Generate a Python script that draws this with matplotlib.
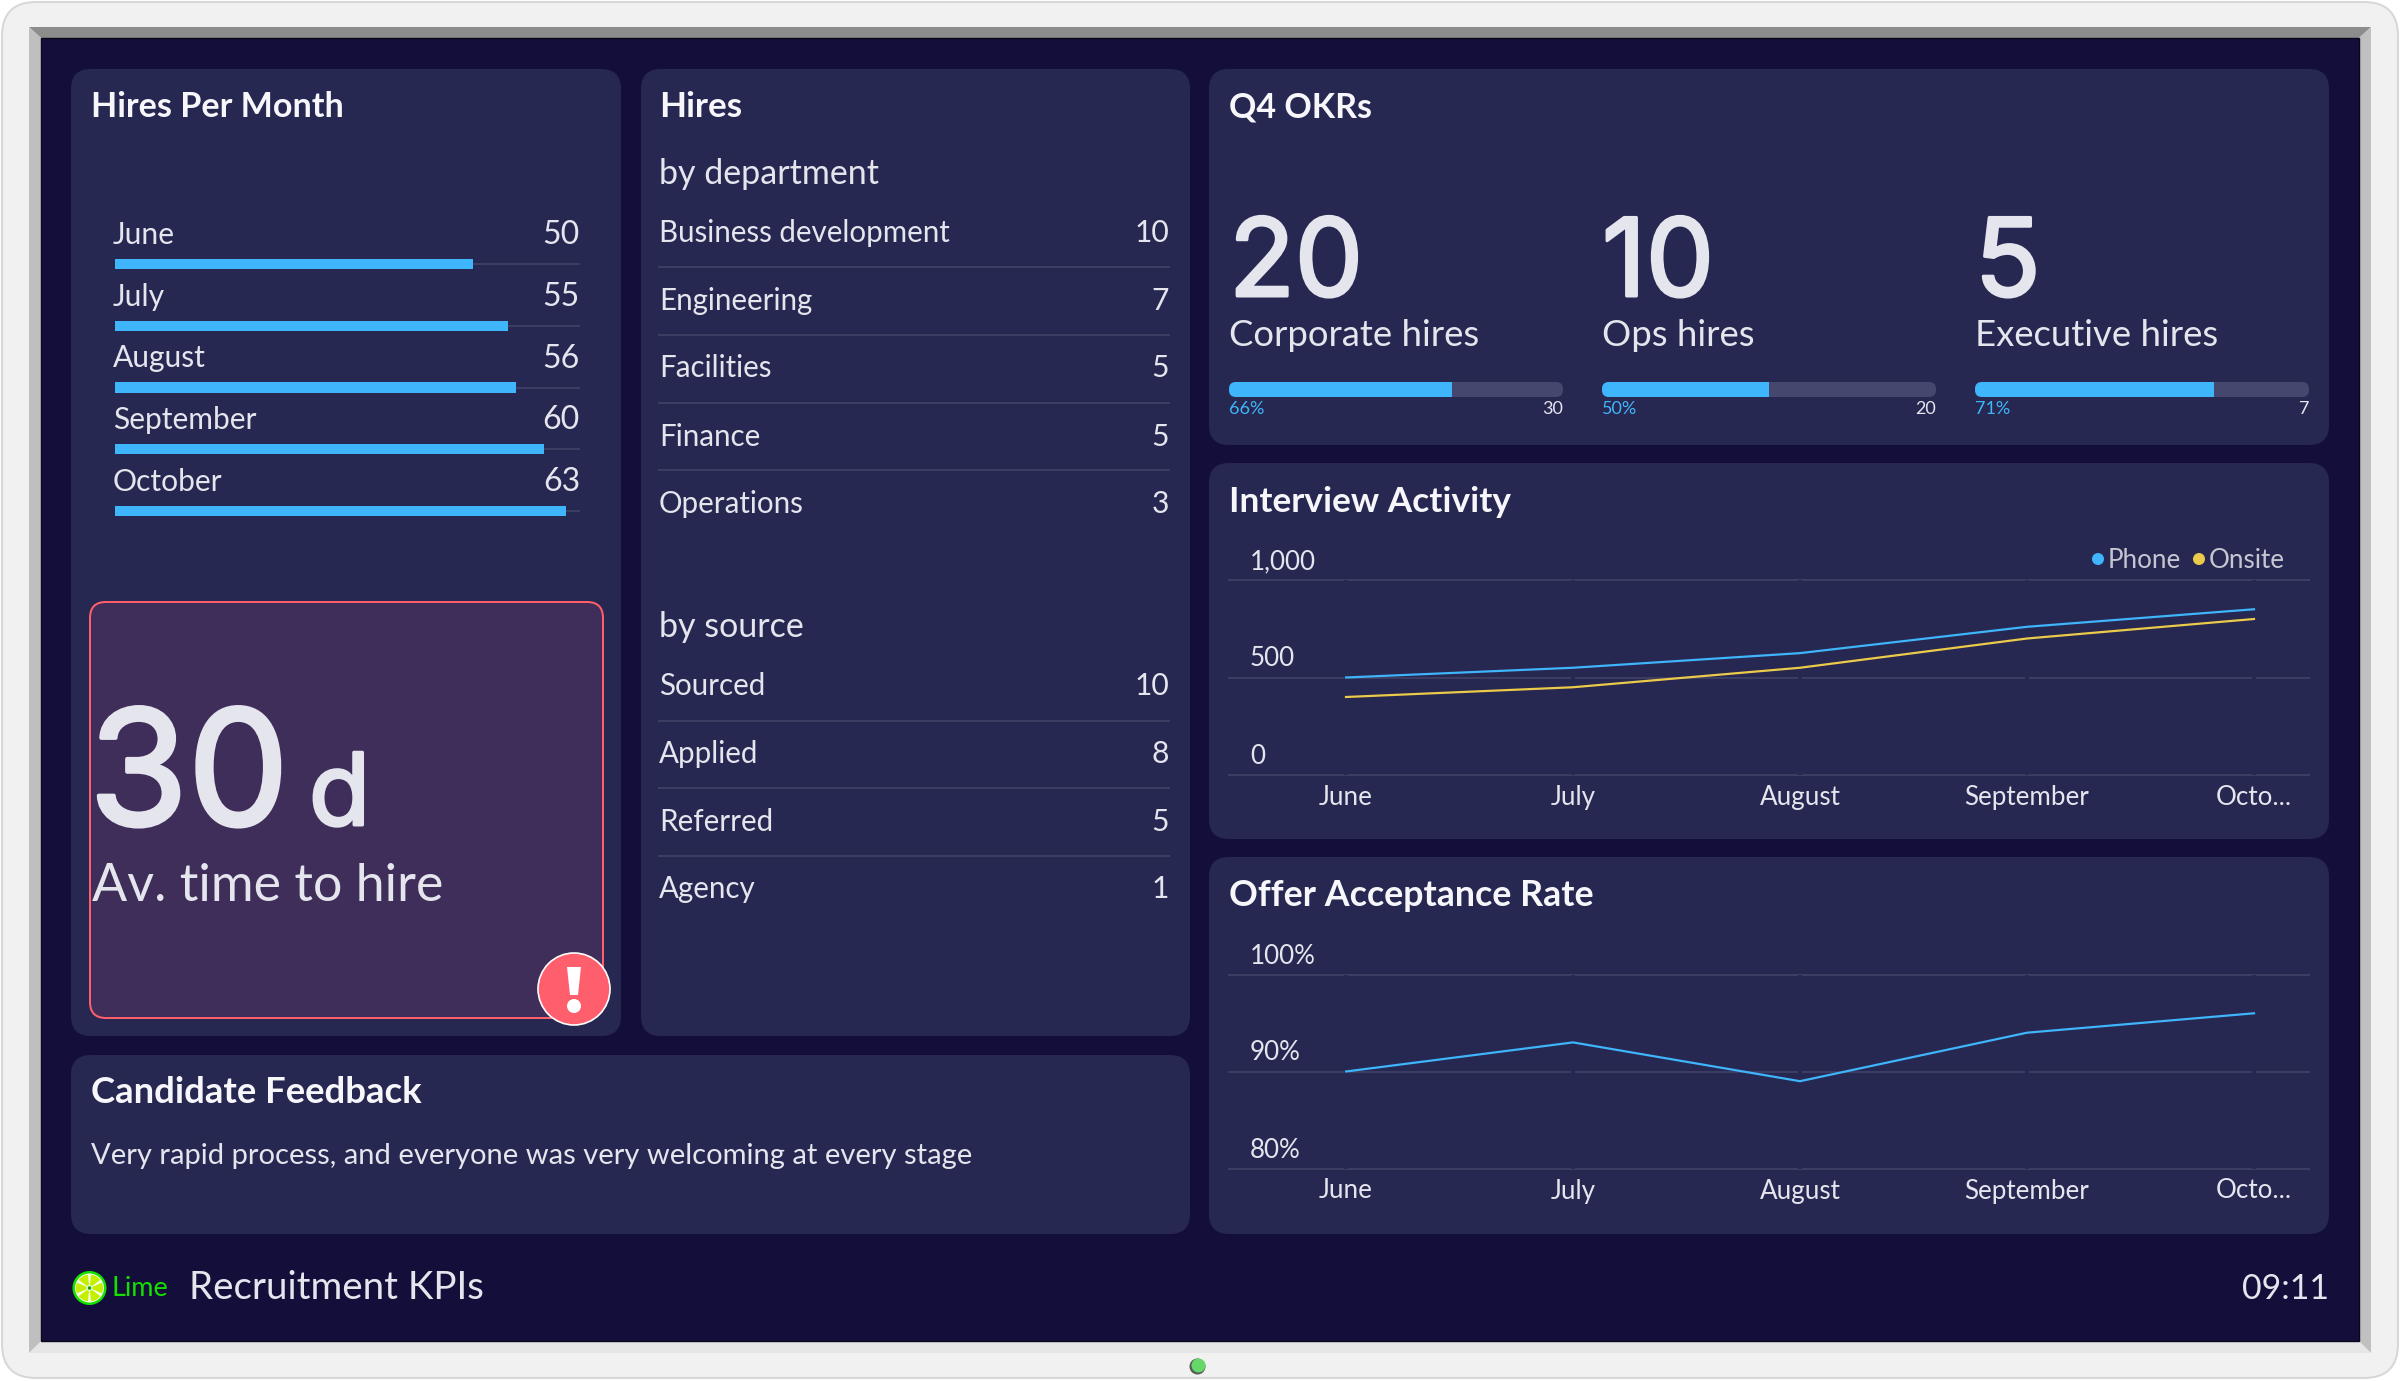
import matplotlib
matplotlib.use('Agg')
import matplotlib.pyplot as plt
import matplotlib.patheffects as pe
from matplotlib.patches import FancyBboxPatch, Polygon, Circle, Wedge
from matplotlib.transforms import ScaledTranslation

W, H = 2400, 1381

# data
months = ['June', 'July', 'August', 'September', 'October']
month_ticks = ['June', 'July', 'August', 'September', 'Octo...']
hires_per_month = [50, 55, 56, 60, 63]
hires_max = 65

departments = ['Business development', 'Engineering', 'Facilities', 'Finance', 'Operations']
department_hires = [10, 7, 5, 5, 3]
sources = ['Sourced', 'Applied', 'Referred', 'Agency']
source_hires = [10, 8, 5, 1]

okr_names = ['Corporate hires', 'Ops hires', 'Executive hires']
okr_values = [20, 10, 5]
okr_targets = [30, 20, 7]
okr_percent = ['66%', '50%', '71%']

phone = [500, 550, 625, 760, 850]
onsite = [400, 450, 550, 700, 800]
activity_ticks = [0, 500, 1000]
activity_labels = ['0', '500', '1,000']

offer_rate = [90, 93, 89, 94, 96]
offer_ticks = [80, 90, 100]
offer_labels = ['80%', '90%', '100%']

# colours
SCREEN = '#140f3a'
PANEL = '#272851'
TEXT = '#e5e5ee'
TITLE = '#f7f7fb'
BLUE = '#3fb5fb'
YELLOW = '#eccb4a'
GRID = '#3c3d63'
RED = '#ff5f6d'
FONT = 'Lato'
BIG_FONT = 'Inter'

plt.rcParams['font.family'] = [FONT, 'DejaVu Sans']

fig = plt.figure(figsize=(W / 100, H / 100), dpi=100, facecolor='white')

# one axes in pixels for the monitor and the cards
bg = fig.add_axes([0, 0, 1, 1])
bg.set_xlim(0, W)
bg.set_ylim(H, 0)
bg.axis('off')


def pt(px):
    return px * 0.72


def px_axes(x0, y0, x1, y1):
    a = fig.add_axes([x0 / W, 1 - y1 / H, (x1 - x0) / W, (y1 - y0) / H])
    a.patch.set_alpha(0)
    return a


def card(x0, y0, x1, y1, color=PANEL, r=20, **kw):
    p = FancyBboxPatch((x0, y0), x1 - x0, y1 - y0, boxstyle=f'round,pad=0,rounding_size={r}',
                       facecolor=color, edgecolor=kw.pop('edgecolor', 'none'), **kw)
    bg.add_patch(p)
    return p


def txt(x, y, s, size, color=TEXT, ha='left', weight='normal'):
    return bg.text(x, y, s, fontsize=pt(size), color=color, ha=ha, va='baseline', fontweight=weight)


def big(x, y, s, size, stroke):
    # big numbers are heavier than the regular cut, so thicken them a little
    t = txt(x, y, s, size)
    t.set_family([BIG_FONT, 'DejaVu Sans'])
    t.set_path_effects([pe.withStroke(linewidth=pt(stroke), foreground=TEXT)])
    return t


# monitor frame
card(2, 2, 2398, 1378, color='#f1f1f1', r=34, edgecolor='#d8d8dc', linewidth=1.5)
bg.add_patch(Polygon([(29, 27), (2371, 27), (2359, 38), (41, 38)], facecolor='#8c8c8c'))
bg.add_patch(Polygon([(29, 27), (41, 38), (41, 1342), (29, 1353)], facecolor='#bfbfbf'))
bg.add_patch(Polygon([(2371, 27), (2359, 38), (2359, 1342), (2371, 1353)], facecolor='#c0c0c0'))
bg.add_patch(Polygon([(29, 1353), (41, 1341), (2359, 1341), (2371, 1353)], facecolor='#e6e6e6'))
bg.add_patch(plt.Rectangle((41, 38), 2318, 1303, facecolor=SCREEN, edgecolor='#08081c', linewidth=1))
bg.add_patch(Circle((1197.5, 1366.5), 8, facecolor='#555a55'))
bg.add_patch(Circle((1198.5, 1365.5), 7, facecolor='#66d86a'))

# cards
card(71, 69, 621, 1036)
card(641, 69, 1190, 1036)
card(1209, 69, 2329, 445)
card(1209, 463, 2329, 839)
card(1209, 857, 2329, 1234)
card(71, 1055, 1190, 1234)

# titles
txt(91, 117, 'Hires Per Month', 34.2, TITLE, weight='bold')
txt(659, 117, 'Hires', 35, TITLE, weight='bold')
txt(1229, 117, 'Q4 OKRs', 34, TITLE, weight='bold')
txt(1229, 512, 'Interview Activity', 35.3, TITLE, weight='bold')
txt(1229, 906, 'Offer Acceptance Rate', 35.8, TITLE, weight='bold')
txt(91, 1103, 'Candidate Feedback', 36.5, TITLE, weight='bold')

# hires per month bars
ax = px_axes(115, 233.1, 580, 541.9)
ypos = list(range(len(months)))
ax.hlines(ypos, 0, hires_max, color=GRID, linewidth=pt(2), zorder=1)
ax.barh(ypos, hires_per_month, height=0.162, color=BLUE, zorder=2)
ax.set_xlim(0, hires_max)
ax.set_ylim(4.5, -0.5)
ax.axis('off')
for i, (m, v) in enumerate(zip(months, hires_per_month)):
    ax.annotate(m, (0, i), xytext=(pt(-2), pt(20)), textcoords='offset points',
                fontsize=pt(30), color=TEXT, ha='left', va='baseline')
    ax.annotate(str(v), (hires_max, i), xytext=(0, pt(20)), textcoords='offset points',
                fontsize=pt(32), color=TEXT, ha='right', va='baseline')

# time to hire alert
card(90, 602, 603, 1018, color='#3f2d5a', r=16, edgecolor=RED, linewidth=pt(2))
big(89, 825, '30', 160, 4)
big(309, 825, 'd', 100, 3)
txt(92, 901, 'Av. time to hire', 52)
bg.add_patch(Circle((574, 989), 36, facecolor=RED, edgecolor='white', linewidth=1.2, zorder=5))
bg.add_patch(Polygon([(567, 967), (581, 967), (578, 995), (570, 995)], facecolor='white', zorder=6))
bg.add_patch(Circle((574, 1006), 7, facecolor='white', zorder=6))

# hires tables
txt(659, 184, 'by department', 34)
dept_base = [242, 310, 377, 446, 513]
for y, name, v in zip(dept_base, departments, department_hires):
    txt(659, y, name, 29.5)
    txt(1169, y, str(v), 30, ha='right')
for y in [267, 335, 403, 470]:
    bg.plot([659, 1169], [y, y], color=GRID, linewidth=pt(2))

txt(659, 637, 'by source', 34)
src_base = [695, 763, 831, 898]
for y, name, v in zip(src_base, sources, source_hires):
    txt(659, y, name, 29.5)
    txt(1169, y, str(v), 30, ha='right')
for y in [721, 788, 856]:
    bg.plot([659, 1169], [y, y], color=GRID, linewidth=pt(2))

# q4 okrs
okr_x = [1229, 1602, 1975]
for x, name, val, target, perc in zip(okr_x, okr_names, okr_values, okr_targets, okr_percent):
    big(x, 296, str(val), 108, 3)
    txt(x, 346, name, 36.5)
    track = card(x, 382, x + 334, 397, color='#46476f', r=7)
    a = px_axes(x, 382, x + 334, 397)
    bar = a.barh([0], [val], height=1, color=BLUE)[0]
    bar.set_clip_path(track)
    a.set_xlim(0, target)
    a.set_ylim(-0.5, 0.5)
    a.axis('off')
    txt(x, 414, perc, 18, BLUE)
    txt(x + 334, 414, str(target), 18, ha='right')


def line_chart(y_top, y_bottom, ylim, ticks, labels):
    # x=0 is the June point at 1346 px, one category is 227 px
    a = px_axes(1229, y_top, 2309, y_bottom)
    a.set_xlim((1229 - 1346) / 227, (2309 - 1346) / 227)
    a.set_ylim(*ylim)
    a.set_xticks(range(len(month_ticks)))
    a.set_xticklabels(month_ticks, fontsize=pt(26), color=TEXT)
    a.set_yticks(ticks)
    a.set_yticklabels(labels, fontsize=pt(26), color=TEXT, ha='left', va='baseline')
    a.tick_params(axis='x', length=0, pad=pt(10))
    a.tick_params(axis='y', length=0, pad=pt(-21))
    up = ScaledTranslation(0, 11 / 100, fig.dpi_scale_trans)
    for lab in a.get_yticklabels():
        lab.set_transform(lab.get_transform() + up)
    a.set_axisbelow(True)
    a.grid(axis='y', color=GRID, linewidth=pt(2), clip_on=False)
    for s in a.spines.values():
        s.set_visible(False)
    for i in range(len(month_ticks)):
        a.axvline(i, color=PANEL, linewidth=pt(4), zorder=1.5)
    return a


# interview activity
ax = line_chart(580, 775, (0, 1000), activity_ticks, activity_labels)
ax.plot(range(len(phone)), phone, color=BLUE, linewidth=pt(2.2), zorder=3, label='Phone')
ax.plot(range(len(onsite)), onsite, color=YELLOW, linewidth=pt(2.2), zorder=3, label='Onsite')
bg.add_patch(Circle((2098, 559), 6, facecolor=BLUE))
txt(2108, 568, 'Phone', 26, '#c6c6d2')
bg.add_patch(Circle((2199, 559), 6, facecolor=YELLOW))
txt(2209, 568, 'Onsite', 26, '#c6c6d2')

# offer acceptance
ax = line_chart(974.5, 1168.5, (80, 100), offer_ticks, offer_labels)
ax.plot(range(len(offer_rate)), offer_rate, color=BLUE, linewidth=pt(2.2), zorder=3)

# feedback
txt(91, 1164, 'Very rapid process, and everyone was very welcoming at every stage', 29.1)

# footer
bg.add_patch(Circle((89.5, 1288), 17, facecolor='#14e000'))
bg.add_patch(Circle((89.5, 1288), 14.5, facecolor='#f4ffe6'))
for k in range(6):
    bg.add_patch(Wedge((89.5, 1288), 13.5, k * 60 + 37, k * 60 + 83, width=10.5, facecolor='#c4f000'))
bg.add_patch(Circle((89.5, 1288), 1.8, facecolor='#14a000'))
txt(112, 1296, 'Lime', 27, '#14e000')
txt(189, 1299, 'Recruitment KPIs', 38.5)
txt(2329, 1299, '09:11', 34, ha='right')

fig.savefig('out.png', dpi=100, facecolor='white')
